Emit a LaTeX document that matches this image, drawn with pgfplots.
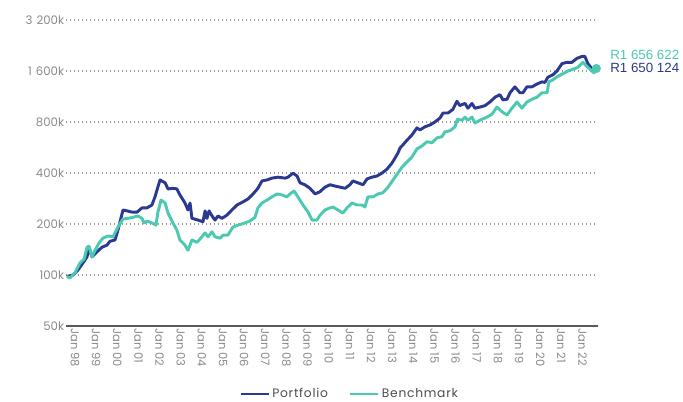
\documentclass[border=0pt]{standalone}
\usepackage{fontspec}
\setmainfont{Liberation Sans}
\newfontfamily\legfont[LetterSpace=6]{Poppins}
\newfontfamily\tickfont{Poppins}
\usepackage{pgfplots}
\usepackage{pgfplotstable}
\pgfplotsset{compat=1.18}
\definecolor{port}{HTML}{2B3990}
\definecolor{bench}{HTML}{4CC9B0}
\definecolor{tickc}{HTML}{8A8A8A}
\definecolor{gridc}{HTML}{9A9A9A}
\definecolor{axisc}{HTML}{5A5A5A}

\pgfplotstableread{
year val
1997.61 98
1997.91 100
1998.14 107
1998.38 118
1998.57 128
1998.66 146
1998.80 128
1999.04 137
1999.28 146
1999.51 150
1999.65 158
1999.89 161
2000.03 184
2000.27 242
2000.46 239
2000.70 235
2000.93 235
2001.17 249
2001.40 249
2001.64 259
2001.78 289
2002.02 364
2002.26 350
2002.40 322
2002.63 325
2002.82 322
2002.96 297
2003.20 266
2003.34 242
2003.44 266
2003.53 216
2003.82 211
2004.05 206
2004.15 239
2004.24 216
2004.34 239
2004.48 223
2004.62 211
2004.76 223
2004.95 216
2005.19 226
2005.42 242
2005.66 259
2005.94 270
2006.18 281
2006.42 301
2006.65 325
2006.84 359
2007.08 364
2007.31 373
2007.60 378
2007.93 373
2008.07 378
2008.31 399
2008.50 384
2008.64 350
2008.87 341
2009.11 325
2009.35 301
2009.58 310
2009.82 330
2010.06 341
2010.29 335
2010.53 330
2010.77 325
2011.00 341
2011.14 359
2011.38 350
2011.62 341
2011.81 369
2012.04 378
2012.28 384
2012.52 400
2012.75 421
2012.99 458
2013.13 490
2013.27 525
2013.37 562
2013.51 587
2013.70 625
2013.93 670
2014.17 739
2014.31 718
2014.55 750
2014.78 768
2015.02 800
2015.26 845
2015.40 904
2015.64 904
2015.87 950
2016.06 1060
2016.20 1000
2016.44 1030
2016.58 965
2016.77 1030
2016.91 965
2017.15 980
2017.39 1000
2017.62 1050
2017.86 1120
2018.09 1160
2018.24 1080
2018.43 1090
2018.57 1190
2018.80 1290
2019.04 1190
2019.18 1190
2019.37 1290
2019.61 1290
2019.84 1340
2020.08 1380
2020.22 1370
2020.36 1470
2020.60 1520
2020.79 1600
2021.03 1770
2021.26 1800
2021.50 1800
2021.73 1900
2021.97 1950
2022.11 1950
2022.25 1770
2022.44 1650
2022.62 1650
}\portfolio

\pgfplotstableread{
year val
1997.62 98
1997.76 96
1998.00 103
1998.24 118
1998.43 124
1998.57 146
1998.66 148
1998.80 128
1998.95 140
1999.13 154
1999.32 165
1999.56 170
1999.80 168
1999.89 177
2000.08 197
2000.27 214
2000.51 216
2000.74 219
2000.98 223
2001.17 216
2001.26 203
2001.40 208
2001.64 203
2001.83 197
2001.92 235
2002.07 277
2002.26 266
2002.40 232
2002.63 203
2002.82 184
2002.96 161
2003.20 150
2003.34 140
2003.53 161
2003.77 156
2003.91 163
2004.15 177
2004.29 168
2004.48 180
2004.62 168
2004.86 165
2005.00 172
2005.23 172
2005.47 192
2005.71 197
2006.04 203
2006.27 208
2006.51 219
2006.65 249
2006.84 266
2007.08 277
2007.31 289
2007.55 301
2007.79 297
2008.02 289
2008.17 301
2008.36 313
2008.54 289
2008.78 259
2009.02 235
2009.21 211
2009.44 211
2009.58 225
2009.82 242
2010.06 249
2010.20 252
2010.43 242
2010.67 232
2010.86 249
2011.10 266
2011.33 259
2011.57 259
2011.71 252
2011.85 289
2012.09 289
2012.33 301
2012.56 306
2012.80 330
2013.04 364
2013.27 400
2013.46 433
2013.70 465
2013.93 497
2014.17 555
2014.41 578
2014.64 612
2014.88 604
2015.12 645
2015.35 655
2015.49 700
2015.73 710
2015.97 750
2016.08 830
2016.30 820
2016.44 855
2016.58 820
2016.77 855
2016.91 790
2017.15 820
2017.48 855
2017.72 890
2017.95 980
2018.19 920
2018.43 880
2018.66 965
2018.90 1050
2019.13 965
2019.37 1050
2019.61 1090
2019.84 1120
2020.08 1190
2020.32 1190
2020.41 1380
2020.60 1420
2020.84 1490
2021.07 1540
2021.31 1600
2021.55 1640
2021.78 1680
2022.02 1800
2022.25 1680
2022.54 1560
2022.65 1656
}\benchmark

\begin{document}
\begin{tikzpicture}
\path[use as bounding box] (-49.5pt,-56.25pt) rectangle (462.75pt,244.5pt);
\begin{axis}[
  at={(0pt,0pt)}, anchor=south west,
  scale only axis, width=399pt, height=229.5pt,
  xmin=1997.574, xmax=2022.73,
  ymode=log, ymin=50, ymax=3200,
  ytick={50,100,200,400,800,1600,3200},
  yticklabels={50k,100k,200k,400k,800k,1\hspace{0.35em}600k,3\hspace{0.35em}200k},
  xtick={1998,...,2022},
  xticklabels={Jan 98,Jan 99,Jan 00,Jan 01,Jan 02,Jan 03,Jan 04,Jan 05,Jan 06,Jan 07,Jan 08,Jan 09,Jan 10,Jan 11,Jan 12,Jan 13,Jan 14,Jan 15,Jan 16,Jan 17,Jan 18,Jan 19,Jan 20,Jan 21,Jan 22},
  axis x line*=bottom, axis y line*=left,
  x axis line style={draw=axisc, line width=1.6pt, -},
  y axis line style={draw=none},
  major tick length=0pt,
  ymajorgrids,
  grid style={gridc, line width=1pt, dash pattern=on 1.1pt off 1.9pt},
  yticklabel style={font=\tickfont\fontsize{8.8}{10}\selectfont, text=tickc, inner sep=1.2pt},
  xticklabel style={font=\tickfont\fontsize{8.6}{10}\selectfont, text=tickc, rotate=-90, anchor=west, inner sep=1.5pt},
  legend style={at={(0.534,-0.222)}, anchor=center, draw=none, fill=none,
    legend columns=2, font=\legfont\fontsize{9.2}{10}\selectfont, text=black!70,
    /tikz/every even column/.append style={column sep=14pt}},
  legend image code/.code={\draw[#1, line width=1.5pt] (0pt,0pt) -- (21pt,0pt);},
  clip=false,
]
\addplot[port, line width=2.2pt, line join=round] table[x=year,y=val]{\portfolio};
\addlegendentry{Portfolio}
\addplot[bench, line width=2.2pt, line join=round] table[x=year,y=val]{\benchmark};
\addlegendentry{Benchmark}
\addplot[only marks, mark=*, mark size=3.2pt, bench, forget plot] coordinates {(2022.65,1656)};
\end{axis}
\node[anchor=west, inner sep=0pt, text=bench, font=\fontsize{10}{11}\selectfont] at (408pt,203.25pt) {R1 656 622};
\node[anchor=west, inner sep=0pt, text=port, font=\fontsize{10}{11}\selectfont] at (408pt,193.5pt) {R1 650 124};
\end{tikzpicture}
\end{document}
